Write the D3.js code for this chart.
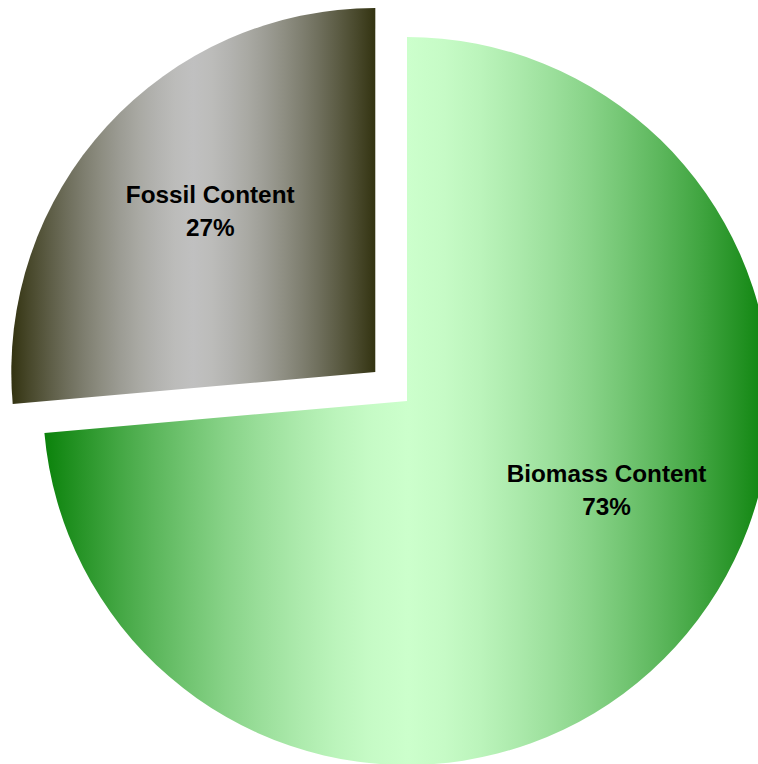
<!DOCTYPE html>
<html>
<head>
<meta charset="utf-8">
<script src="https://cdn.jsdelivr.net/npm/d3@7"></script>
<style>
  html, body { margin: 0; padding: 0; background: #ffffff; }
  svg { display: block; }
</style>
</head>
<body>
<div id="chart"></div>
<script>
// ---- data ----
const categories = ["Biomass Content", "Fossil Content"];
const values = [73.6, 26.4];
const percentLabels = ["73%", "27%"];
const explodedCategory = "Fossil Content";

// ---- layout / style constants ----
const W = 758, H = 764;
const cx = 407, cy = 401, R = 364;
const explodeDistance = 43;
const gradientColors = {
  "Biomass Content": { edge: "#0b820b", center: "#ccffcc" },
  "Fossil Content": { edge: "#333311", center: "#c0c0c0" }
};
const gradientShape = 1.5;
// label placement (fraction of radius, angular nudge in degrees)
const labelRadiusFactor = { "Biomass Content": 0.6, "Fossil Content": 0.633 };
const labelAngleNudge = { "Biomass Content": -18.5, "Fossil Content": 1.75 };

const svg = d3.select("#chart").append("svg")
  .attr("width", W).attr("height", H);

const defs = svg.append("defs");
const stopOffsets = d3.range(0, 1.0001, 0.05);
categories.forEach((c, i) => {
  const g = defs.append("linearGradient")
    .attr("id", "grad" + i)
    .attr("x1", "0").attr("y1", "0").attr("x2", "1").attr("y2", "0");
  const interp = d3.interpolateRgb(gradientColors[c].center, gradientColors[c].edge);
  stopOffsets.forEach(o => {
    const t = Math.abs(o - 0.5) * 2;     // 0 at centre, 1 at edges
    g.append("stop")
      .attr("offset", (o * 100).toFixed(1) + "%")
      .attr("stop-color", interp(Math.pow(t, gradientShape)));
  });
});

const pie = d3.pie().sort(null).value(d => d.value).startAngle(0).endAngle(2 * Math.PI);
const data = categories.map((c, i) => ({ name: c, value: values[i], label: percentLabels[i], idx: i }));
const arcs = pie(data);
const arc = d3.arc().innerRadius(0).outerRadius(R);

const root = svg.append("g").attr("transform", `translate(${cx},${cy})`);

function offsetFor(d) {
  if (d.data.name !== explodedCategory) return [0, 0];
  const mid = (d.startAngle + d.endAngle) / 2;
  return [Math.sin(mid) * explodeDistance, -Math.cos(mid) * explodeDistance];
}

const slices = root.selectAll("g.slice").data(arcs).join("g")
  .attr("class", "slice")
  .attr("transform", d => { const o = offsetFor(d); return `translate(${o[0]},${o[1]})`; });

slices.append("path")
  .attr("d", arc)
  .attr("fill", d => `url(#grad${d.data.idx})`);

const fontFamily = "'Liberation Sans', Arial, Helvetica, sans-serif";
slices.each(function(d) {
  const mid = (d.startAngle + d.endAngle) / 2 + labelAngleNudge[d.data.name] * Math.PI / 180;
  const lr = R * labelRadiusFactor[d.data.name];
  const x = Math.sin(mid) * lr, y = -Math.cos(mid) * lr;
  const t = d3.select(this).append("text")
    .attr("text-anchor", "middle")
    .attr("font-family", fontFamily)
    .attr("font-weight", "bold")
    .attr("font-size", "24.3px")
    .attr("fill", "#000");
  t.append("tspan").attr("x", x).attr("y", y - 8).text(d.data.name);
  t.append("tspan").attr("x", x).attr("y", y + 25).text(d.data.label);
});
</script>
</body>
</html>
